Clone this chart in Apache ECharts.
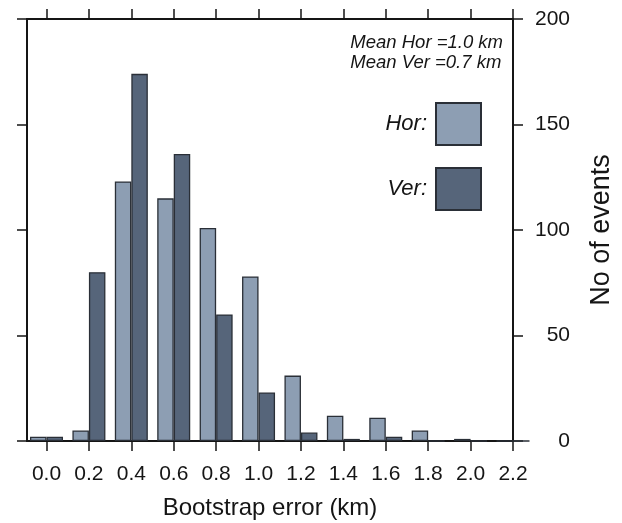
<!DOCTYPE html>
<html>
<head>
<meta charset="utf-8">
<script src="https://cdn.jsdelivr.net/npm/echarts@6/dist/echarts.min.js"></script>
<style>
  html, body { margin: 0; padding: 0; background: #fff; }
  #chart { width: 622px; height: 523px; }
</style>
</head>
<body>
<div id="chart"></div>
<script>
  // bin centres (km) and counts
  var bins = [0.0, 0.2, 0.4, 0.6, 0.8, 1.0, 1.2, 1.4, 1.6, 1.8, 2.0, 2.2];
  var horCounts = [2, 5, 123, 115, 101, 78, 31, 12, 11, 5, 1, 0];
  var verCounts = [2, 80, 174, 136, 60, 23, 4, 1, 2, 0, 0, 0];
  var yTicks = [0, 50, 100, 150, 200];
  var meanText = ['Mean Hor =1.0 km', 'Mean Ver =0.7 km'];

  var font = 'Liberation Sans, Arial, Helvetica, sans-serif';
  var ink = '#151515';

  var chart = echarts.init(document.getElementById('chart'));

  function pairs(vals) {
    return bins.map(function (b, i) { return [b, vals[i]]; });
  }

  var xCommon = {
    type: 'value',
    min: -0.092,
    max: 2.2,
    splitLine: { show: false },
    axisLine: { show: true, onZero: false, lineStyle: { color: ink, width: 2 } },
    axisTick: { show: true, inside: false, length: 10, customValues: bins, lineStyle: { color: ink, width: 1.5 } }
  };

  var yCommon = {
    type: 'value',
    min: 0,
    max: 200,
    interval: 50,
    splitLine: { show: false },
    axisLine: { show: true, onZero: false, lineStyle: { color: ink, width: 2 } },
    axisTick: { show: true, inside: false, length: 10, lineStyle: { color: ink, width: 1.5 } }
  };

  chart.setOption({
    animation: false,
    backgroundColor: '#fff',
    textStyle: { fontFamily: font },
    title: {
      text: meanText.join('\n'),
      right: 119,
      top: 33,
      padding: 0,
      textStyle: { fontSize: 18.5, fontStyle: 'italic', fontWeight: 'normal', color: ink, lineHeight: 20, fontFamily: font }
    },
    legend: {
      data: ['Hor', 'Ver'],
      orient: 'vertical',
      right: 140,
      top: 102,
      padding: 0,
      align: 'right',
      itemWidth: 45,
      itemHeight: 42,
      itemGap: 21,
      icon: 'rect',
      formatter: '{name}:',
      textStyle: { fontSize: 22, fontStyle: 'italic', color: ink, fontFamily: font, padding: [0, 4, 0, 0] }
    },
    grid: { left: 27, right: 109, top: 19, bottom: 82, containLabel: false, outerBoundsMode: 'none' },
    xAxis: [
      Object.assign({}, xCommon, {
        position: 'bottom',
        name: 'Bootstrap error (km)',
        nameLocation: 'middle',
        nameGap: 55,
        nameTextStyle: { fontSize: 24, color: ink, fontFamily: font },
        axisLabel: {
          show: true, customValues: bins, margin: 23, fontSize: 21, color: ink,
          formatter: function (v) { return v.toFixed(1); }
        }
      }),
      Object.assign({}, xCommon, {
        position: 'top',
        axisLabel: { show: false }
      })
    ],
    yAxis: [
      Object.assign({}, yCommon, {
        position: 'right',
        name: 'No of events',
        nameLocation: 'middle',
        nameRotate: 90,
        nameGap: 75,
        nameTextStyle: { fontSize: 27, color: ink, fontFamily: font },
        axisLabel: { show: true, customValues: yTicks, align: 'right', margin: 57, fontSize: 21, color: ink }
      }),
      Object.assign({}, yCommon, {
        position: 'left',
        axisLabel: { show: false }
      })
    ],
    series: [
      {
        name: 'Hor',
        type: 'bar',
        xAxisIndex: 0,
        yAxisIndex: 0,
        barGap: '0%',
        barWidth: 16.5,
        itemStyle: { color: '#8d9eb3', borderColor: '#2a2f37', borderWidth: 1.3 },
        data: pairs(horCounts)
      },
      {
        name: 'Ver',
        type: 'bar',
        xAxisIndex: 0,
        yAxisIndex: 0,
        barGap: '0%',
        barWidth: 16.5,
        itemStyle: { color: '#56657a', borderColor: '#2a2f37', borderWidth: 1.3 },
        data: pairs(verCounts)
      }
    ]
  });
</script>
</body>
</html>
